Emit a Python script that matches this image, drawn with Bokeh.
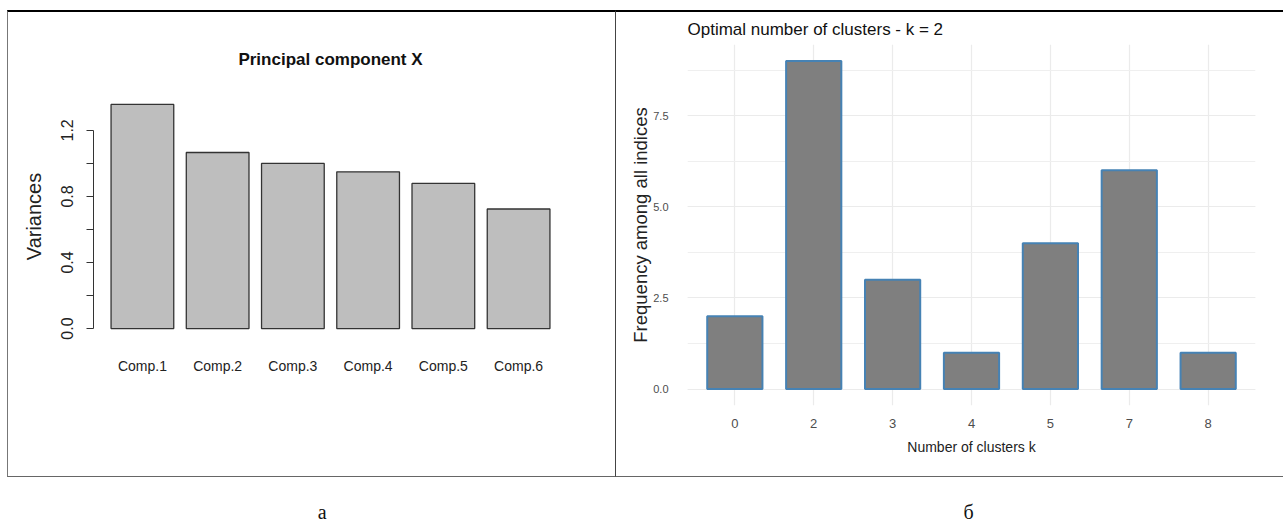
from bokeh.plotting import figure
from bokeh.models import FactorRange, Range1d, FixedTicker, SingleIntervalTicker, PrintfTickFormatter
from bokeh.layouts import column, row
from bokeh.embed import file_html
from bokeh.resources import INLINE
from bokeh.core.properties import value

# ---- data: panel (a) principal components
pc_names = ["Comp.1", "Comp.2", "Comp.3", "Comp.4", "Comp.5", "Comp.6"]
pc_variances = [1.357, 1.066, 1.000, 0.949, 0.879, 0.724]
pc_yticks = [0.0, 0.4, 0.8, 1.2]
pc_yminor = [0.2, 0.6, 1.0]

# ---- data: panel (b) optimal number of clusters
k_labels = ["0", "2", "3", "4", "5", "7", "8"]
k_freq = [2, 9, 3, 1, 4, 6, 1]

captions = ["а", "б"]

SANS = "'Liberation Sans', Arial, sans-serif"


def no_align(p):
    if "frame_align" in p.properties():
        p.frame_align = False


# ---------------- panel (a)
ymax_a = max(pc_variances)
pa = figure(
    x_range=FactorRange(factors=pc_names, range_padding=0.05),
    y_range=Range1d(-0.04 * ymax_a, 1.04 * ymax_a),
    frame_width=472, frame_height=239,
    min_border_left=85, min_border_right=50, min_border_top=83, min_border_bottom=142,
    output_backend="svg", toolbar_location=None,
    title="Principal component X",
    styles={"border-top": "2px solid #000", "border-left": "1px solid #777",
            "border-right": "1px solid #444", "border-bottom": "1px solid #666",
            "margin-top": "10px", "margin-left": "7px"},
)
no_align(pa)
pa.vbar(x=pc_names, top=pc_variances, width=1 / 1.2, bottom=0,
        fill_color="#BEBEBE", line_color="#333333", line_width=1.3)
pa.xgrid.grid_line_color = None
pa.ygrid.grid_line_color = None
pa.outline_line_color = None

pa.title.align = "center"
pa.title.text_font = SANS
pa.title.text_font_size = "17px"
pa.title.text_font_style = "bold"
pa.title.text_color = "#111111"
pa.title.standoff = 53

xa = pa.xaxis[0]
xa.axis_line_color = None
xa.major_tick_line_color = None
xa.minor_tick_line_color = None
xa.major_label_text_font = SANS
xa.major_label_text_font_size = "14px"
xa.major_label_text_color = "#222222"
xa.major_label_standoff = 14

ya = pa.yaxis[0]
ya.ticker = FixedTicker(ticks=pc_yticks, minor_ticks=pc_yminor)
ya.formatter = PrintfTickFormatter(format="%.1f")
ya.bounds = (0, 1.2)
ya.axis_line_color = "#333333"
ya.major_tick_line_color = "#333333"
ya.minor_tick_line_color = "#333333"
ya.major_tick_out = 7
ya.major_tick_in = 0
ya.minor_tick_out = 7
ya.minor_tick_in = 0
ya.major_label_orientation = "vertical"
ya.major_label_text_font = SANS
ya.major_label_text_font_size = "16px"
ya.major_label_text_color = "#222222"
ya.major_label_standoff = 13
ya.axis_label = "Variances"
ya.axis_label_text_font = SANS
ya.axis_label_text_font_size = "20px"
ya.axis_label_text_font_style = "normal"
ya.axis_label_text_color = "#222222"
ya.axis_label_standoff = 14

# ---------------- panel (b)
kmax = max(k_freq)
pb = figure(
    x_range=FactorRange(factors=k_labels, range_padding=0.2 / 7),
    y_range=Range1d(-0.05 * kmax, 1.05 * kmax),
    frame_width=568, frame_height=358,
    min_border_left=71, min_border_right=28, min_border_top=30, min_border_bottom=74,
    output_backend="svg", toolbar_location=None,
    title="Optimal number of clusters - k = 2",
    styles={"border-top": "2px solid #000", "border-bottom": "1px solid #666",
            "margin-top": "10px"},
)
no_align(pb)
pb.vbar(x=k_labels, top=k_freq, width=0.7, bottom=0,
        fill_color="#7F7F7F", line_color="#4682B4", line_width=2)
pb.outline_line_color = None
pb.xgrid.grid_line_color = "#EBEBEB"
pb.xgrid.grid_line_width = 1.2
pb.ygrid.grid_line_color = "#EBEBEB"
pb.ygrid.grid_line_width = 1.2
pb.ygrid.minor_grid_line_color = "#EFEFEF"
pb.ygrid.minor_grid_line_width = 1.2

pb.title.align = "left"
pb.title.offset = 0
pb.title.text_font = SANS
pb.title.text_font_size = "17px"
pb.title.text_font_style = "normal"
pb.title.text_color = "#111111"
pb.title.standoff = 11

xb = pb.xaxis[0]
xb.axis_line_color = None
xb.major_tick_line_color = None
xb.minor_tick_line_color = None
xb.major_label_text_font = SANS
xb.major_label_text_font_size = "13px"
xb.major_label_text_color = "#4D4D4D"
xb.major_label_standoff = 7
xb.axis_label = "Number of clusters k"
xb.axis_label_text_font = SANS
xb.axis_label_text_font_size = "14px"
xb.axis_label_text_font_style = "normal"
xb.axis_label_text_color = "#222222"
xb.axis_label_standoff = 8

yb = pb.yaxis[0]
yb.ticker = SingleIntervalTicker(interval=2.5, num_minor_ticks=2)
yb.formatter = PrintfTickFormatter(format="%.1f")
yb.axis_line_color = None
yb.major_tick_line_color = None
yb.minor_tick_line_color = None
yb.major_label_text_font = SANS
yb.major_label_text_font_size = "11px"
yb.major_label_text_color = "#4D4D4D"
yb.major_label_standoff = 13
yb.axis_label = "Frequency among all indices"
yb.axis_label_text_font = SANS
yb.axis_label_text_font_size = "18.5px"
yb.axis_label_text_font_style = "normal"
yb.axis_label_text_color = "#222222"
yb.axis_label_standoff = -1

# ---------------- captions row
cap_w, cap_h = 1283, 46
pc = figure(width=cap_w, height=cap_h, x_range=Range1d(0, cap_w), y_range=Range1d(0, cap_h),
            min_border=0, output_backend="svg", toolbar_location=None)
no_align(pc)
pc.axis.visible = False
pc.grid.grid_line_color = None
pc.outline_line_color = None
pc.text(x=[321.7, 968], y=[12, 12], text=captions, text_align="center",
        text_baseline="alphabetic", text_font=value("Liberation Serif"),
        text_font_size="20px", text_color="#111111")

layout = column(row(pa, pb, spacing=0), pc, spacing=0)
open("out.html", "w").write(file_html(layout, INLINE))
